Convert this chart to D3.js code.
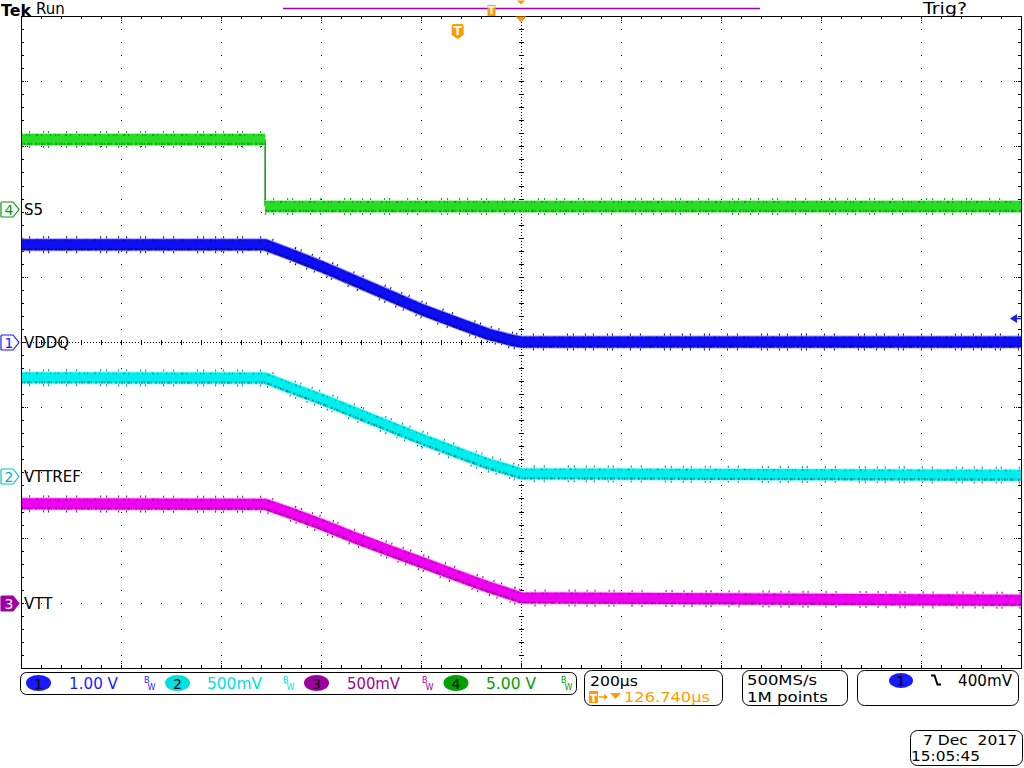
<!DOCTYPE html>
<html><head><meta charset="utf-8">
<script src="https://cdn.jsdelivr.net/npm/d3@7"></script>
<style>html,body{margin:0;padding:0;background:#fff;} svg{display:block;} text{font-family:"DejaVu Sans",sans-serif;}</style>
</head><body><div id="chart"></div>
<script>
// ---- data ----
const timeUs   = [-873, -385, -330, -270, -200, -130, -70, 0, 60, 110, 127, 1127];
const vddqV    = [1.49, 1.49, 1.334, 1.150, 0.920, 0.690, 0.491, 0.291, 0.123, 0.023, 0.0, 0.0];
const vttrefV  = [0.751, 0.748, 0.667, 0.583, 0.475, 0.368, 0.276, 0.176, 0.092, 0.035, 0.015, 0.004];
const vttV     = [0.759, 0.755, 0.683, 0.598, 0.491, 0.391, 0.307, 0.207, 0.123, 0.061, 0.038, 0.019];
const s5Time   = [-873, -385, -385, 1127];
const s5V      = [5.33, 5.33, 0.19, 0.19];
const channelNames   = ["VDDQ", "VTTREF", "VTT", "S5"];
const channelNumbers = ["1", "2", "3", "4"];
const voltsPerDiv    = [1.0, 0.5, 0.5, 5.0];
const groundDiv      = [0.0, -2.05, -4.0, 2.04];
const readoutLabels  = ["1.00 V", "500mV", "500mV", "5.00 V"];
const timePerDivUs   = 200;
const triggerDelayUs = 126.74;
const trigLevelV     = 0.36;
const timebaseLabel  = "200µs";
const delayLabel     = "126.740µs";
const sampleLabels   = ["500MS/s", "1M points"];
const trigLabel      = "400mV";
const dateLabels     = ["7 Dec  2017", "15:05:45"];

// ---- layout ----
const W = 1024, H = 768;
const L = 21, R = 1021, T = 16, B = 668;
const svg = d3.select("#chart").append("svg").attr("width", W).attr("height", H)
  .style("background", "#fff");

const x = d3.scaleLinear()
  .domain([triggerDelayUs - 5 * timePerDivUs, triggerDelayUs + 5 * timePerDivUs])
  .range([L, R]);
const yDiv = d3.scaleLinear().domain([-5, 5]).range([B, T]);
const chY = (ch, v) => yDiv(groundDiv[ch] + v / voltsPerDiv[ch]);

// ---- graticule ----
const grid = svg.append("g").attr("shape-rendering", "crispEdges");
const xMajor = d3.range(0, 11).map(k => x(x.domain()[0] + k * timePerDivUs));
const yMajor = d3.range(-5, 6).map(d => yDiv(d));
const xMinor = d3.range(1, 50).map(k => L + k * (R - L) / 50);
const yMinor = d3.range(1, 50).map(k => T + k * (B - T) / 50);
const cx = x(triggerDelayUs), cy = yDiv(0);

xMajor.slice(1, 10).forEach(xv => {
  if (Math.abs(xv - cx) < 1) return;
  yMinor.forEach(yv => grid.append("rect").attr("x", Math.round(xv)).attr("y", Math.round(yv)).attr("width", 1).attr("height", 1).attr("fill", "#000"));
});
yMajor.slice(1, 10).forEach(yv => {
  if (Math.abs(yv - cy) < 1) return;
  xMinor.forEach(xv => grid.append("rect").attr("x", Math.round(xv)).attr("y", Math.round(yv)).attr("width", 1).attr("height", 1).attr("fill", "#000"));
});
// center cross
grid.append("line").attr("x1", Math.round(cx) + 0.5).attr("x2", Math.round(cx) + 0.5).attr("y1", T).attr("y2", B)
  .attr("stroke", "#000").attr("stroke-dasharray", "1,2");
grid.append("line").attr("y1", Math.round(cy) + 0.5).attr("y2", Math.round(cy) + 0.5).attr("x1", L).attr("x2", R)
  .attr("stroke", "#000").attr("stroke-dasharray", "1,2");
yMinor.forEach(yv => grid.append("line").attr("x1", Math.round(cx) - 2).attr("x2", Math.round(cx) + 3)
  .attr("y1", Math.round(yv) + 0.5).attr("y2", Math.round(yv) + 0.5).attr("stroke", "#000"));
xMinor.forEach(xv => grid.append("line").attr("y1", Math.round(cy) - 2).attr("y2", Math.round(cy) + 3)
  .attr("x1", Math.round(xv) + 0.5).attr("x2", Math.round(xv) + 0.5).attr("stroke", "#000"));
// edge ticks
xMinor.forEach(xv => {
  grid.append("rect").attr("x", Math.round(xv)).attr("y", T).attr("width", 1).attr("height", 3).attr("fill", "#000");
  grid.append("rect").attr("x", Math.round(xv)).attr("y", B - 3).attr("width", 1).attr("height", 3).attr("fill", "#000");
});
yMinor.forEach(yv => {
  grid.append("rect").attr("x", L).attr("y", Math.round(yv)).attr("width", 3).attr("height", 1).attr("fill", "#000");
  grid.append("rect").attr("x", R - 3).attr("y", Math.round(yv)).attr("width", 3).attr("height", 1).attr("fill", "#000");
});
xMajor.slice(1, 10).forEach(xv => {
  grid.append("line").attr("x1", Math.round(xv) + 0.5).attr("x2", Math.round(xv) + 0.5).attr("y1", T).attr("y2", T + 7).attr("stroke", "#000").attr("stroke-dasharray", "1,1");
  grid.append("line").attr("x1", Math.round(xv) + 0.5).attr("x2", Math.round(xv) + 0.5).attr("y1", B - 7).attr("y2", B).attr("stroke", "#000").attr("stroke-dasharray", "1,1");
});
yMajor.slice(1, 10).forEach(yv => {
  grid.append("line").attr("y1", Math.round(yv) + 0.5).attr("y2", Math.round(yv) + 0.5).attr("x1", L).attr("x2", L + 7).attr("stroke", "#000").attr("stroke-dasharray", "1,1");
  grid.append("line").attr("y1", Math.round(yv) + 0.5).attr("y2", Math.round(yv) + 0.5).attr("x1", R - 7).attr("x2", R).attr("stroke", "#000").attr("stroke-dasharray", "1,1");
});
// frame
grid.append("path").attr("d", `M${L + 0.5},${B + 0.5}V${T + 0.5}H${R + 0.5}V${B + 0.5}H${L + 0.5}`)
  .attr("fill", "none").attr("stroke", "#000");

// ---- traces ----
svg.append("clipPath").attr("id", "plotclip").append("rect")
  .attr("x", L + 1).attr("y", T + 1).attr("width", R - L - 1).attr("height", B - T - 1);
const traces = svg.append("g").attr("clip-path", "url(#plotclip)");

const traceStyles = [
  { main: "#0e0ef4", dark: "#000080", halo: "#a0a0ff" },
  { main: "#00eeee", dark: "#008080", halo: "#b0ffff" },
  { main: "#f000f0", dark: "#800080", halo: "#ffb0ff" },
  { main: "#28dc28", dark: "#0a960a", halo: "#b0f0b0" }
];

function drawTrace(ch, times, volts) {
  const pts = times.map((t, i) => ({ t, v: volts[i] }));
  const segs = [[pts[0]]];
  for (let i = 1; i < pts.length; i++) {
    if (pts[i].t === pts[i - 1].t) segs.push([pts[i]]);
    else segs[segs.length - 1].push(pts[i]);
  }
  const st = traceStyles[ch];
  const line = d3.line().x(d => x(d.t)).y(d => chY(ch, d.v));
  const g = traces.append("g");
  for (let i = 1; i < segs.length; i++) {
    const a = segs[i - 1][segs[i - 1].length - 1], b = segs[i][0];
    g.append("line").attr("x1", x(a.t)).attr("x2", x(b.t)).attr("y1", chY(ch, a.v)).attr("y2", chY(ch, b.v))
      .attr("stroke", st.dark).attr("stroke-width", 1.5);
  }
  segs.forEach(seg => {
    const d = line(seg);
    g.append("path").attr("d", d).attr("fill", "none").attr("stroke", st.dark).attr("stroke-width", 17)
      .attr("stroke-dasharray", "1 7 1 13 1 4 1 17 1 9 1 23 1 5 1 11");
    g.append("path").attr("d", d).attr("fill", "none").attr("stroke", st.halo).attr("stroke-width", 13);
    g.append("path").attr("d", d).attr("fill", "none").attr("stroke", st.main).attr("stroke-width", 11);
    g.append("path").attr("d", d).attr("fill", "none").attr("stroke", st.dark).attr("stroke-width", 2.5)
      .attr("transform", "translate(0,4.5)").attr("stroke-dasharray", "2 1 1 2 3 1 1 3 2 2 1 1").attr("opacity", 0.75);
    g.append("path").attr("d", d).attr("fill", "none").attr("stroke", st.dark).attr("stroke-width", 2)
      .attr("transform", "translate(0,-4.5)").attr("stroke-dasharray", "1 4 1 2 1 6 2 3 1 8").attr("opacity", ch === 3 ? 0.9 : 0.55);
  });
}
drawTrace(3, s5Time, s5V);
drawTrace(0, timeUs, vddqV);
drawTrace(1, timeUs, vttrefV);
drawTrace(2, timeUs, vttV);

// ---- channel markers and names ----
const markerStyle = [
  { stroke: "#1a1aff", fill: "#fff", text: "#1a1aff" },
  { stroke: "#00c8c8", fill: "#fff", text: "#00b0b0" },
  { stroke: "#a000a0", fill: "#a000a0", text: "#fff" },
  { stroke: "#0a9a0a", fill: "#fff", text: "#0a9a0a" }
];
[3, 0, 1, 2].forEach(ch => {
  const yv = Math.round(chY(ch, 0)) + 0.5;
  const ms = markerStyle[ch];
  svg.append("path").attr("d", `M2,${yv - 7.5}H13L19,${yv}L13,${yv + 7.5}H2Q1,${yv + 7.5} 1,${yv + 6.5}V${yv - 6.5}Q1,${yv - 7.5} 2,${yv - 7.5}Z`)
    .attr("fill", ms.fill).attr("stroke", ms.stroke).attr("stroke-width", 1.2);
  svg.append("text").attr("x", 9).attr("y", yv + 5.5).attr("text-anchor", "middle").attr("font-size", 14)
    .attr("fill", ms.text).text(channelNumbers[ch]);
  svg.append("text").attr("x", 24).attr("y", yv + 5.5).attr("font-size", 15).attr("fill", "#000").text(channelNames[ch]);
});

// trigger level arrow (right)
const ty = chY(0, trigLevelV);
svg.append("path").attr("d", `M1010,${ty}L1017,${ty - 4.5}V${ty + 4.5}Z`).attr("fill", "#1a1aff");
svg.append("line").attr("x1", 1016).attr("x2", 1021).attr("y1", ty).attr("y2", ty).attr("stroke", "#1a1aff").attr("stroke-width", 1.5);

// ---- top bar ----
svg.append("text").attr("x", 1).attr("y", 15.5).attr("font-family", "Liberation Serif").attr("font-weight", "bold")
  .attr("font-size", 16.5).attr("fill", "#000").attr("textLength", 30).attr("lengthAdjust", "spacingAndGlyphs").text("Tek");
svg.append("text").attr("x", 36).attr("y", 13.5).attr("font-size", 15).attr("fill", "#000").text("Run");
svg.append("text").attr("x", 923).attr("y", 13.5).attr("font-size", 16).attr("fill", "#000")
  .attr("textLength", 44).attr("lengthAdjust", "spacingAndGlyphs").text("Trig?");
svg.append("line").attr("x1", 283).attr("x2", 760).attr("y1", 8.5).attr("y2", 8.5).attr("stroke", "#a800a8").attr("stroke-width", 1.5);
const orange = "#ff9a00";
svg.append("rect").attr("x", 487.5).attr("y", 5).attr("width", 8).attr("height", 11).attr("fill", orange);
svg.append("text").attr("x", 491.5).attr("y", 14).attr("text-anchor", "middle").attr("font-size", 10).attr("font-weight", "bold").attr("fill", "#fff").text("T");
svg.append("path").attr("d", `M${cx - 4},0.5L${cx + 4},0.5L${cx},4.5Z`).attr("fill", orange);
svg.append("path").attr("d", `M${cx - 5.5},16.5L${cx + 5.5},16.5L${cx},22.5Z`).attr("fill", orange);
const tx = x(0);
svg.append("path").attr("d", `M${tx - 6},26Q${tx - 6},24 ${tx - 4},24H${tx + 4}Q${tx + 6},24 ${tx + 6},26V35L${tx},39L${tx - 6},35Z`).attr("fill", orange);
svg.append("text").attr("x", tx).attr("y", 35).attr("text-anchor", "middle").attr("font-size", 12).attr("font-weight", "bold").attr("fill", "#fff").text("T");

// ---- bottom readouts ----
const box = (x0, y0, x1, y1, r) => svg.append("rect").attr("x", x0 + 0.5).attr("y", y0 + 0.5).attr("width", x1 - x0).attr("height", y1 - y0)
  .attr("rx", r).attr("fill", "#fff").attr("stroke", "#000").attr("stroke-width", 1);
box(20, 672, 576, 694, 6);
box(584, 670, 722, 705, 7);
box(742, 670, 847, 705, 7);
box(857, 670, 1018, 705, 7);
box(910, 730, 1022, 765, 7);

const roColors = ["#1a1aff", "#00e0e0", "#a000a0", "#00a000"];
const roEll = [38.5, 177.5, 316.5, 456];
const roTxt = [69, 207, 347, 486];
const roBW = [144, 283, 422, 561];
const roW = [49, 55, 53, 50];
readoutLabels.forEach((lab, i) => {
  svg.append("ellipse").attr("cx", roEll[i]).attr("cy", 683).attr("rx", 12.5).attr("ry", 8).attr("fill", roColors[i]);
  svg.append("text").attr("x", roEll[i]).attr("y", 688.5).attr("text-anchor", "middle").attr("font-size", 14).attr("fill", "#000").text(channelNumbers[i]);
  svg.append("text").attr("x", roTxt[i]).attr("y", 689).attr("font-size", 16).attr("fill", roColors[i])
    .attr("textLength", roW[i]).attr("lengthAdjust", "spacingAndGlyphs").text(lab);
  svg.append("text").attr("x", roBW[i]).attr("y", 683).attr("font-size", 8).attr("fill", roColors[i]).text("B");
  svg.append("text").attr("x", roBW[i] + 3.5).attr("y", 689.5).attr("font-size", 8).attr("fill", roColors[i]).text("W");
});

svg.append("text").attr("x", 590).attr("y", 685.5).attr("font-size", 14.5).attr("fill", "#000")
  .attr("textLength", 48).attr("lengthAdjust", "spacingAndGlyphs").text(timebaseLabel);
svg.append("rect").attr("x", 589).attr("y", 691).attr("width", 9).attr("height", 12).attr("fill", orange);
svg.append("text").attr("x", 593.5).attr("y", 701.5).attr("text-anchor", "middle").attr("font-size", 11).attr("font-weight", "bold").attr("fill", "#fff").text("T");
svg.append("path").attr("d", "M599,697H606").attr("stroke", orange).attr("stroke-width", 1.5);
svg.append("path").attr("d", "M604,694L608,697L604,700Z").attr("fill", orange);
svg.append("path").attr("d", "M610,693H621L615.5,699Z").attr("fill", orange);
svg.append("text").attr("x", 624).attr("y", 702).attr("font-size", 14.5).attr("fill", orange)
  .attr("textLength", 86).attr("lengthAdjust", "spacingAndGlyphs").text(delayLabel);

svg.append("text").attr("x", 747).attr("y", 685).attr("font-size", 14).attr("fill", "#000")
  .attr("textLength", 70).attr("lengthAdjust", "spacingAndGlyphs").text(sampleLabels[0]);
svg.append("text").attr("x", 747).attr("y", 702).attr("font-size", 14).attr("fill", "#000")
  .attr("textLength", 81).attr("lengthAdjust", "spacingAndGlyphs").text(sampleLabels[1]);

svg.append("ellipse").attr("cx", 901).attr("cy", 680.5).attr("rx", 12).attr("ry", 7.5).attr("fill", "#1a1aff");
svg.append("text").attr("x", 901).attr("y", 685.5).attr("text-anchor", "middle").attr("font-size", 14).attr("fill", "#000").text("1");
svg.append("path").attr("d", "M931,675.5H934.5L937.5,684.5H941").attr("fill", "none").attr("stroke", "#000").attr("stroke-width", 2);
svg.append("text").attr("x", 958).attr("y", 686).attr("font-size", 15).attr("fill", "#000")
  .attr("textLength", 54).attr("lengthAdjust", "spacingAndGlyphs").text(trigLabel);

svg.append("text").attr("x", 923).attr("y", 744.5).attr("font-size", 14).attr("fill", "#000")
  .style("white-space", "pre").attr("textLength", 94).attr("lengthAdjust", "spacingAndGlyphs").text(dateLabels[0]);
svg.append("text").attr("x", 911).attr("y", 761).attr("font-size", 14).attr("fill", "#000")
  .attr("textLength", 69).attr("lengthAdjust", "spacingAndGlyphs").text(dateLabels[1]);
</script>
</body></html>
